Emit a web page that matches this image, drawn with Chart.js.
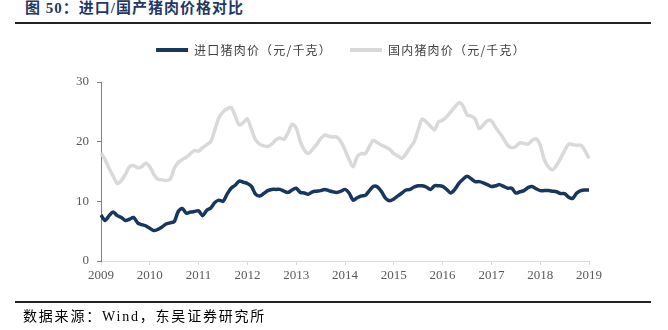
<!DOCTYPE html>
<html>
<head>
<meta charset="utf-8">
<script src="https://cdn.jsdelivr.net/npm/chart.js@4"></script>
<style>
  body { margin: 0; background: #fff; }
  #wrap { position: relative; width: 668px; height: 330px; }
  #title { position: absolute; left: 25px; top: 0px; font: bold 15px "Liberation Serif", "Noto Sans CJK SC"; letter-spacing: 1px; color: #1f3864; line-height: 17px; }
  .rule { position: absolute; left: 15px; width: 636px; height: 2px; background: #222; }
  #source { position: absolute; left: 23px; top: 308px; font: 14px "Liberation Serif", "Noto Sans CJK SC"; letter-spacing: 1.8px; color: #000; line-height: 18px; }
  canvas { position: absolute; left: 0; top: 0; }
</style>
</head>
<body>
<div id="wrap">
  <div id="title">图 50：进口/国产猪肉价格对比</div>
  <div class="rule" style="top:22px"></div>
  <canvas id="chart1" width="668" height="330"></canvas>
  <div class="rule" style="top:301px"></div>
  <div id="source">数据来源：Wind，东吴证券研究所</div>
</div>
<script>
// monthly, Jan 2009 .. Jan 2019
const months = [];
for (let y = 2009; y <= 2019; y++) {
    for (let m = 1; m <= 12; m++) {
        if (y === 2019 && m > 1) break;
        months.push(y + '-' + String(m).padStart(2, '0'));
    }
}

const importPrice = [
    7.7, 6.8, 7.6, 8.2, 7.6, 7.3, 6.8, 7.0, 7.3, 6.4, 6.1, 5.9,
    5.5, 5.1, 5.3, 5.7, 6.2, 6.4, 6.6, 8.3, 8.8, 8.0, 8.2, 8.3,
    8.4, 7.6, 8.5, 8.9, 9.8, 10.2, 10.0, 11.2, 12.2, 12.7, 13.4, 13.2,
    13.0, 12.5, 11.2, 10.9, 11.3, 11.8, 12.0, 12.0, 12.0, 11.7, 11.5, 11.9,
    12.2, 11.5, 11.4, 11.2, 11.6, 11.7, 11.8, 12.0, 11.8, 11.6, 11.5, 11.7,
    12.0, 11.4, 10.2, 10.6, 10.9, 11.0, 11.8, 12.5, 12.4, 11.6, 10.5, 10.1,
    10.4, 10.9, 11.4, 11.9, 12.0, 12.4, 12.6, 12.6, 12.4, 12.0, 12.6, 12.6,
    12.5, 12.0, 11.4, 12.0, 13.0, 13.7, 14.2, 13.8, 13.3, 13.3, 13.1, 12.8,
    12.5, 12.6, 12.8, 12.5, 12.2, 12.2, 11.4, 11.6, 11.8, 12.3, 12.5, 12.1,
    11.8, 11.8, 11.8, 11.7, 11.6, 11.3, 11.3, 10.7, 10.5, 11.4, 11.8, 11.9,
    11.9
];

const domesticPrice = [
    18.1, 17.0, 15.5, 14.2, 13.0, 13.5, 14.5, 15.8, 16.0, 15.6, 15.8, 16.4,
    15.8, 14.5, 13.7, 13.6, 13.5, 13.7, 15.5, 16.5, 17.0, 17.4, 18.0, 18.5,
    18.4, 19.0, 19.5, 20.0, 22.0, 24.0, 25.0, 25.5, 25.7, 24.3, 22.8, 23.2,
    23.8, 22.0, 20.3, 19.6, 19.3, 19.2, 19.6, 20.3, 20.6, 20.4, 21.5, 22.9,
    22.3, 20.0, 18.6, 18.0, 18.7, 19.5, 20.5, 21.1, 20.9, 20.8, 20.8, 20.0,
    18.6, 17.0, 15.8, 17.5, 18.0, 18.0, 19.2, 20.2, 19.8, 19.4, 19.1, 18.7,
    18.0, 17.6, 17.2, 18.0, 19.0, 20.0, 22.0, 23.8, 23.3, 22.6, 22.0, 23.3,
    23.6, 24.2, 25.0, 25.8, 26.5, 26.0, 24.5, 24.3, 23.8, 22.2, 22.8, 23.5,
    23.5, 22.4, 21.5, 20.5, 19.4, 19.0, 19.2, 19.8, 19.7, 19.6, 20.2, 20.5,
    19.4, 17.0, 15.8, 15.3, 16.0, 17.2, 18.5, 19.6, 19.5, 19.4, 19.4, 18.5,
    17.2
];

const yTicks = [0, 10, 20, 30];

// legend: wider letter spacing, taller box, nudged right
const legendTweak = {
    id: 'legendTweak',
    beforeInit(chart) {
        const lg = chart.legend;
        const fit = lg.fit;
        const draw = lg.draw;
        lg.fit = function () {
            chart.ctx.letterSpacing = '1.2px';
            fit.call(this);
            chart.ctx.letterSpacing = '0px';
            this.height = 56;
        };
        lg.draw = function () {
            chart.ctx.letterSpacing = '1.2px';
            draw.call(this);
            chart.ctx.letterSpacing = '0px';
        };
    },
    afterLayout(chart) {
        chart.legend.left += 16;
        chart.legend.right += 16;
    }
};

const ctx1 = document.getElementById('chart1').getContext('2d');
const chart1 = new Chart(ctx1, {
    type: 'line',
    data: {
        labels: months,
        datasets: [{
            label: '进口猪肉价（元/千克）',
            data: importPrice,
            borderColor: '#17375e',
            backgroundColor: '#17375e',
            borderWidth: 3.5,
            pointRadius: 0,
            tension: 0.3,
        }, {
            label: '国内猪肉价（元/千克）',
            data: domesticPrice,
            borderColor: '#d9d9d9',
            backgroundColor: '#d9d9d9',
            borderWidth: 3.5,
            pointRadius: 0,
            tension: 0.3,
        }]
    },
    options: {
        responsive: false,
        animation: false,
        layout: { padding: { left: 61, right: 79, top: 26, bottom: 44 } },
        plugins: {
            tooltip: { enabled: false },
            legend: {
                position: 'top',
                labels: {
                    boxWidth: 32,
                    boxHeight: 4,
                    padding: 18,
                    color: '#404040',
                    font: { family: 'Noto Sans CJK SC', size: 12 },
                    generateLabels(chart) {
                        return Chart.defaults.plugins.legend.labels.generateLabels(chart)
                            .map(l => Object.assign(l, { lineWidth: 0 }));
                    }
                }
            }
        },
        scales: {
            x: {
                type: 'category',
                afterFit(scale) { scale.height = 25; },
                grid: { drawOnChartArea: false, drawTicks: true, tickLength: 4, color: '#d9d9d9' },
                border: { color: '#d9d9d9' },
                ticks: {
                    autoSkip: false,
                    maxRotation: 0,
                    padding: 3,
                    color: '#595959',
                    font: { family: 'Liberation Serif', size: 13 },
                    callback(val, i) {
                        const lab = months[i];
                        return lab.endsWith('-01') ? lab.slice(0, 4) : null;
                    }
                }
            },
            y: {
                min: 0,
                max: 30,
                afterFit(scale) { scale.width = 40; },
                afterBuildTicks(scale) { scale.ticks = yTicks.map(v => ({ value: v })); },
                grid: { drawOnChartArea: false, drawTicks: true, tickLength: 4, color: '#808080' },
                border: { color: '#808080' },
                ticks: {
                    padding: 8,
                    color: '#595959',
                    font: { family: 'Liberation Serif', size: 13 }
                }
            }
        }
    },
    plugins: [legendTweak]
});
</script>
</body>
</html>
